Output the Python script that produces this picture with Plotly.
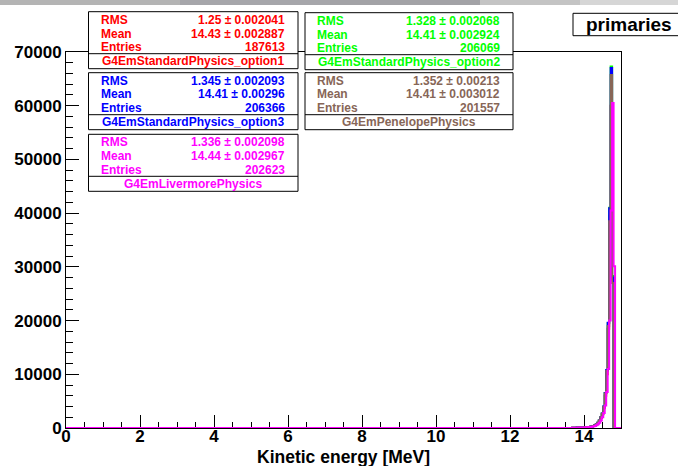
import numpy as np
import plotly.graph_objects as go

# ---------------- data ----------------
x_range = [0.0, 15.0]
y_range = [0, 70000]
bin_start = 13.68      # first non-empty bin (MeV)
bin_width = 0.04       # MeV

names = ["G4EmStandardPhysics_option1", "G4EmStandardPhysics_option2",
         "G4EmStandardPhysics_option3", "G4EmPenelopePhysics",
         "G4EmLivermorePhysics"]
colors = ["#ff0000", "#00ff00", "#0000ff", "#876657", "#ff00ff"]
rms_val = ["1.25", "1.328", "1.345", "1.352", "1.336"]
rms_err = ["0.002041", "0.002068", "0.002093", "0.00213", "0.002098"]
mean_val = ["14.43", "14.41", "14.41", "14.41", "14.44"]
mean_err = ["0.002887", "0.002924", "0.00296", "0.003012", "0.002967"]
entries = ["187613", "206069", "206366", "201557", "202623"]

counts_option1 = [35, 45, 55, 65, 75, 85, 95, 100, 120, 140, 160, 185, 220, 280, 350,
                  460, 650, 930, 1300, 1850, 2500, 3700, 6000, 10000, 18500, 39500,
                  60000, 27500, 0]
counts_option2 = [40, 50, 60, 70, 80, 90, 100, 110, 130, 150, 170, 200, 240, 300, 380,
                  500, 700, 1000, 1400, 2000, 2700, 4000, 6500, 10700, 19500, 41000,
                  67300, 28300, 0]
counts_option3 = [40, 50, 60, 70, 80, 90, 100, 110, 130, 150, 170, 200, 240, 300, 380,
                  500, 700, 1000, 1400, 2000, 2700, 4000, 6500, 10800, 19600, 40900,
                  67000, 28000, 0]
counts_penelope = [40, 50, 60, 70, 80, 90, 100, 110, 130, 150, 170, 200, 240, 300, 380,
                   500, 700, 1000, 1400, 2000, 2650, 3900, 6400, 10600, 19000, 38500,
                   65700, 27000, 0]
counts_livermore = [30, 40, 50, 60, 70, 80, 90, 100, 110, 130, 150, 170, 200, 240, 300,
                    380, 500, 700, 1000, 1400, 2000, 2800, 4200, 6700, 11000, 20000,
                    40500, 60500, 30100]
all_counts = [counts_option1, counts_option2, counts_option3, counts_penelope, counts_livermore]

x_ticks = [0, 2, 4, 6, 8, 10, 12, 14]
y_ticks = [0, 10000, 20000, 30000, 40000, 50000, 60000, 70000]
y_ticktext = ["0", "10000", "20000", "30000", "40000", "50000", "60000", "70000"]
x_title = "Kinetic energy [MeV]"
hist_title = "primaries"

# ---------------- geometry (pixels) ----------------
FW, FH = 678, 466
L, R, T, B = 66, 621, 52, 428
PW, PH = R - L, B - T
FONT = "Liberation Sans"


def px(x):
    return (x - L) / PW


def py(y):
    return (B - y) / PH


fig = go.Figure()

for name, col, cnt in zip(names, colors, all_counts):
    n = len(cnt)
    lefts = bin_start + bin_width * np.arange(n)
    xs = [x_range[0]] + list(lefts) + [bin_start + bin_width * n, x_range[1]]
    ys = [0] + list(cnt) + [0, 0]
    fig.add_trace(go.Scatter(x=xs, y=ys, mode="lines", line=dict(color=col, width=2, shape="hv"),
                             name=name, showlegend=False, hoverinfo="skip"))

shapes = []
annotations = []

# grey strip at the very top
for x0, x1, c in [(0, 180, "#b4b4b4"), (180, 330, "#a6a6aa"), (330, 480, "#a2a2a6"),
                  (480, 580, "#c4c4c4"), (580, 678, "#d6d6d6")]:
    shapes.append(dict(type="rect", xref="paper", yref="paper", x0=px(x0), x1=px(x1),
                       y0=py(5), y1=py(0), fillcolor=c, line=dict(width=0), layer="above"))

# stat boxes
box_pos = [(88.5, 298, 11.7), (305, 513, 12.7), (88.5, 298, 72.7), (305, 513, 72.7), (88.5, 298, 134.3)]
for i, (x0, x1, top) in enumerate(box_pos):
    col = colors[i]
    shapes.append(dict(type="rect", xref="paper", yref="paper", x0=px(x0), x1=px(x1),
                       y0=py(top + 57), y1=py(top), fillcolor="white",
                       line=dict(color="black", width=1), layer="above"))
    shapes.append(dict(type="line", xref="paper", yref="paper", x0=px(x0), x1=px(x1),
                       y0=py(top + 42), y1=py(top + 42), line=dict(color="black", width=1), layer="above"))
    rows = [("RMS", f"{rms_val[i]} ± {rms_err[i]}"),
            ("Mean", f"{mean_val[i]} ± {mean_err[i]}"),
            ("Entries", entries[i])]
    for k, (lab, val) in enumerate(rows):
        yy = top + 8 + k * 13.8
        annotations.append(dict(xref="paper", yref="paper", x=px(x0 + 10), y=py(yy), text=lab,
                                showarrow=False, xanchor="left", yanchor="middle",
                                font=dict(family=FONT, size=12, color=col, weight="bold")))
        annotations.append(dict(xref="paper", yref="paper", x=px(x1 - 11), y=py(yy), text=val,
                                showarrow=False, xanchor="right", yanchor="middle",
                                font=dict(family=FONT, size=12, color=col, weight="bold")))
    annotations.append(dict(xref="paper", yref="paper", x=px((x0 + x1) / 2), y=py(top + 49.3),
                            text=names[i], showarrow=False, xanchor="center", yanchor="middle",
                            font=dict(family=FONT, size=12, color=col, weight="bold")))

# title box
shapes.append(dict(type="rect", xref="paper", yref="paper", x0=px(573), x1=px(690),
                   y0=py(35.7), y1=py(13.3), fillcolor="white",
                   line=dict(color="black", width=1), layer="above"))
annotations.append(dict(xref="paper", yref="paper", x=px(628.5), y=py(24.5), text=hist_title,
                        showarrow=False, xanchor="center", yanchor="middle",
                        font=dict(family=FONT, size=19, color="black", weight="bold")))

# x title
annotations.append(dict(xref="paper", yref="paper", x=px(343.5), y=py(456.5), text=x_title,
                        showarrow=False, xanchor="center", yanchor="middle",
                        font=dict(family=FONT, size=17.5, color="black", weight="bold")))

tickfont = dict(family=FONT, size=17, color="black", weight="bold")
fig.update_layout(
    width=FW, height=FH,
    margin=dict(l=L, r=FW - R, t=T, b=FH - B, pad=0, autoexpand=False),
    paper_bgcolor="white", plot_bgcolor="white",
    shapes=shapes, annotations=annotations,
    xaxis=dict(range=x_range, tickvals=x_ticks, ticks="inside", ticklen=13, tickwidth=1,
               tickcolor="black", showline=True, linecolor="black", linewidth=1, mirror=True,
               showgrid=False, zeroline=False, tickfont=tickfont, layer="below traces",
               ticklabelstandoff=-7, automargin=False,
               minor=dict(dtick=0.5, ticks="inside", ticklen=6.5, tickcolor="black", tickwidth=1,
                          showgrid=False)),
    yaxis=dict(range=y_range, tickvals=y_ticks, ticktext=y_ticktext, ticks="inside", ticklen=13,
               tickwidth=1, tickcolor="black", showline=True, linecolor="black", linewidth=1,
               mirror=True, showgrid=False, zeroline=False, tickfont=tickfont, layer="below traces",
               automargin=False,
               minor=dict(dtick=2000, ticks="inside", ticklen=7, tickcolor="black", tickwidth=1,
                          showgrid=False)),
)

fig.write_html("out.html")
